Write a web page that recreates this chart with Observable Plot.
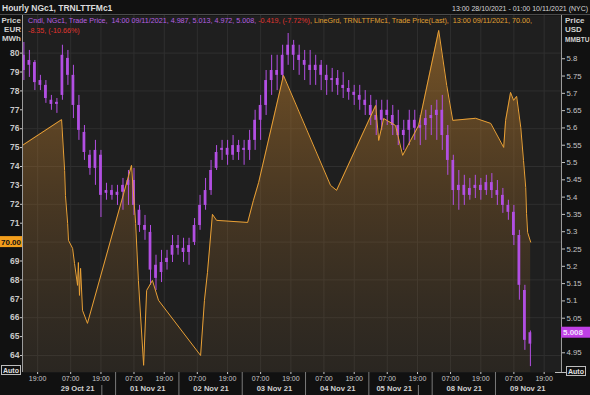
<!DOCTYPE html>
<html><head><meta charset="utf-8">
<script src="https://cdn.jsdelivr.net/npm/d3@7"></script>
<script src="https://cdn.jsdelivr.net/npm/@observablehq/plot@0.6"></script>
<style>
html,body{margin:0;padding:0;background:#111111;}
#chart{width:590px;height:395px;overflow:hidden;}
</style></head><body><div id="chart"></div>
<script>
// ---- NGc1 hourly candles (USD/MMBTU), 2-hour sampling; x = trading-hour index from 13:00 28/10
const candleBar = [0,2,4,6,8,10,12,14,16,18,20,22,24,26,28,30,32,34,36,38,40,42,44,46,48,50,52,54,56,58,60,62,64,66,68,70,72,74,76,78,80,82,84,86,88,90,92,94,96,98,100,102,104,106,108,110,112,114,116,118,120,122,124,126,128,130,132,134,136,138,140,142,144,146,148,150,152,154,156,158,160,162,164,166,168,170,172,174,176,178,180,182,184];
const ngOpen = [5.810,5.781,5.789,5.737,5.723,5.680,5.668,5.694,5.801,5.752,
5.665,5.587,5.521,5.483,5.521,5.411,5.419,5.405,5.414,5.434,
5.448,5.362,5.318,5.298,5.203,5.182,5.211,5.232,5.260,5.252,
5.240,5.269,5.318,5.376,5.419,5.483,5.535,5.541,5.521,5.549,
5.535,5.535,5.564,5.622,5.665,5.737,5.766,5.752,5.810,5.839,
5.810,5.795,5.781,5.766,5.781,5.752,5.737,5.743,5.723,5.714,
5.703,5.694,5.680,5.665,5.636,5.622,5.651,5.636,5.607,5.578,
5.593,5.622,5.599,5.607,5.627,5.636,5.651,5.578,5.506,5.419,
5.434,5.405,5.425,5.434,5.419,5.442,5.419,5.405,5.376,5.356,
5.289,5.130,4.975];
const ngHigh = [5.847,5.824,5.795,5.752,5.737,5.694,5.685,5.839,5.824,5.781,
5.694,5.607,5.535,5.564,5.535,5.440,5.434,5.434,5.454,5.477,
5.483,5.376,5.347,5.318,5.232,5.246,5.246,5.289,5.289,5.281,
5.281,5.338,5.405,5.454,5.506,5.549,5.564,5.564,5.578,5.564,
5.564,5.593,5.651,5.694,5.766,5.810,5.810,5.839,5.873,5.853,
5.839,5.824,5.824,5.810,5.795,5.781,5.772,5.766,5.760,5.737,
5.723,5.723,5.708,5.694,5.680,5.680,5.680,5.665,5.651,5.622,
5.651,5.651,5.636,5.651,5.665,5.680,5.694,5.607,5.521,5.477,
5.463,5.454,5.463,5.454,5.463,5.468,5.448,5.425,5.391,5.376,
5.304,5.145,5.013];
const ngLow = [5.737,5.746,5.708,5.708,5.671,5.651,5.642,5.680,5.723,5.627,
5.564,5.506,5.463,5.434,5.341,5.391,5.391,5.376,5.362,5.376,
5.347,5.298,5.275,5.145,5.130,5.153,5.189,5.211,5.232,5.211,
5.203,5.260,5.304,5.362,5.405,5.477,5.506,5.492,5.506,5.506,
5.492,5.506,5.535,5.564,5.636,5.694,5.708,5.737,5.781,5.766,
5.752,5.737,5.723,5.723,5.708,5.694,5.703,5.694,5.685,5.680,
5.665,5.651,5.636,5.607,5.578,5.593,5.607,5.578,5.549,5.535,
5.549,5.564,5.549,5.564,5.578,5.564,5.535,5.463,5.376,5.362,
5.376,5.391,5.396,5.391,5.405,5.396,5.376,5.353,5.333,5.260,
5.102,4.957,4.910];
const ngClose = [5.766,5.795,5.731,5.723,5.685,5.668,5.674,5.810,5.752,5.665,
5.593,5.529,5.483,5.535,5.405,5.419,5.405,5.414,5.434,5.448,
5.376,5.318,5.304,5.189,5.165,5.211,5.223,5.260,5.252,5.240,
5.260,5.318,5.376,5.419,5.477,5.529,5.541,5.521,5.549,5.529,
5.541,5.564,5.622,5.665,5.737,5.766,5.752,5.810,5.839,5.810,
5.795,5.781,5.766,5.781,5.752,5.737,5.743,5.723,5.714,5.703,
5.694,5.680,5.665,5.636,5.622,5.651,5.636,5.607,5.578,5.593,
5.622,5.599,5.607,5.627,5.636,5.651,5.578,5.506,5.419,5.434,
5.405,5.425,5.434,5.419,5.442,5.419,5.405,5.376,5.356,5.289,
5.145,4.986,5.008];

// ---- TRNLTTFMc1 line (EUR/MWh)
const ttfBar = [-0.5,13.7,14.8,15.1,15.9,16.2,17.7,18.4,19.5,19.8,20.2,20.6,21.3,23.1,39.1,40.6,41.6,43.5,44.6,46.7,48.9,64.2,65.6,66.7,68.5,70.0,81.3,83.4,85.3,94.3,111.4,113.6,127.8,128.9,130.7,135.0,137.6,140.5,143.4,150.7,153.6,155.8,164.1,169.6,174.3,175.0,176.8,177.9,179.0,180.5,181.5,182.3,182.6,183.0,184.1];
const ttfPrice = [75.12,76.48,73.79,72.47,70.99,70.09,69.67,68.87,67.71,68.92,67.18,68.61,66.39,65.70,74.06,70.99,67.97,63.48,67.44,67.97,66.92,64.00,66.92,68.40,71.47,71.15,71.04,72.21,73.16,78.82,73.00,72.74,77.23,75.38,76.54,76.17,74.59,75.38,76.17,81.20,78.29,76.44,76.55,76.28,75.01,76.44,77.92,77.50,77.71,76.07,74.32,72.89,71.52,70.51,70.00];

// ---- axes
const eurTicks = [64,65,66,67,68,69,71,72,73,74,75,76,77,78,79,80];
const eurGrid = [64,66,68,70,72,74,76,78,80];
const usdTicks = [4.95,5.05,5.1,5.15,5.2,5.25,5.3,5.35,5.4,5.45,5.5,5.55,5.6,5.65,5.7,5.75,5.8];
const timeTickBar = [5,17,28,40,51,63,74,86,97,109,120,132,143,155,166,178,189];
const timeTickLabel = ["19:00","07:00","19:00","07:00","19:00","07:00","19:00","07:00","19:00","07:00","19:00","07:00","19:00","07:00","19:00","07:00","19:00"];
const dayLabel = ["29 Oct 21","01 Nov 21","02 Nov 21","03 Nov 21","04 Nov 21","05 Nov 21","08 Nov 21","09 Nov 21"];
const dayStartBar = [10.5,33.5,56.5,79.5,102.5,125.5,148.5,171.5];
const dayEndBar = [28.5,56.5,79.5,102.5,125.5,143.5,171.5,194.5];
const weekEndBar = [28.5,143.5];
const lastTTF = 70.00, lastNG = 5.008;

const xDomain = [-0.5, 195.3];
const eurDomain = [63.10, 81.99];
const usdDomain = [4.893, 5.925];

const purple = "#b24fe2", orange = "#e9a035";
const eurToUsd = d3.scaleLinear().domain(eurDomain).range(usdDomain);
const candles = candleBar.map((b,i)=>({b,o:ngOpen[i],h:ngHigh[i],l:ngLow[i],c:ngClose[i]}));
const ttf = ttfBar.map((b,i)=>({b,u:eurToUsd(ttfPrice[i])}));
const days = dayLabel.map((label,i)=>({label, mid:(dayStartBar[i]+dayEndBar[i])/2}));
const tickMap = new Map(timeTickBar.map((b,i)=>[b,timeTickLabel[i]]));
const FONT = "'Liberation Sans', Arial, sans-serif";

const plot = Plot.plot({
  width:590, height:395, marginTop:15, marginBottom:23, marginLeft:22, marginRight:29,
  style:{background:"#111111", color:"#c8c8c8", fontFamily:FONT, fontSize:"8px", overflow:"visible"},
  x:{domain:xDomain, axis:null},
  y:{domain:usdDomain, axis:null},
  marks:[
    Plot.frame({fill:"#1f1f1f", stroke:null}),
    Plot.ruleY(eurGrid.map(eurToUsd), {stroke:"#2f2f2f"}),
    Plot.ruleX(timeTickBar, {stroke:"#2f2f2f"}),
    Plot.areaY(ttf, {x:"b", y1:usdDomain[0], y2:"u", fill:"url(#ttfGrad)"}),
    Plot.ruleX(candles, {x:"b", y1:"l", y2:"h", stroke:purple, strokeWidth:1}),
    Plot.rect(candles, {x1:d=>d.b-0.5, x2:d=>d.b+0.5, y1:"o", y2:"c", fill:purple}),
    Plot.line(ttf, {x:"b", y:"u", stroke:orange, strokeWidth:1}),
    Plot.ruleX([xDomain[0]], {stroke:"#9c9c9c"}),
    Plot.ruleX([xDomain[1]], {stroke:"#9c9c9c"}),
    Plot.axisY(eurTicks.map(eurToUsd), {anchor:"left", tickSize:2, tickPadding:1,
      tickFormat:d=>String(Math.round(eurToUsd.invert(d))), fontWeight:"bold", fontSize:8.5, color:"#c8c8c8"}),
    Plot.axisY(usdTicks, {anchor:"right", tickSize:3, tickPadding:2,
      tickFormat:d3.format("~g"), fontSize:7.8, color:"#c4c4c4"}),
    Plot.axisX(timeTickBar, {anchor:"bottom", tickSize:2, tickPadding:2,
      tickFormat:d=>tickMap.get(d), fontSize:7, color:"#c8c8c8"}),
    Plot.text(days, {x:"mid", text:"label", frameAnchor:"bottom", dy:18, fontWeight:"bold", fontSize:7.6, fill:"#d0d0d0"})
  ]
});
document.getElementById("chart").appendChild(plot);

const svg = d3.select(plot);
const xs = plot.scale("x"), ys = plot.scale("y");
const defs = svg.insert("defs", ":first-child");
const g = defs.append("linearGradient").attr("id","ttfGrad").attr("gradientUnits","userSpaceOnUse")
  .attr("x1",0).attr("y1",15).attr("x2",0).attr("y2",372);
g.append("stop").attr("offset","0").attr("stop-color","#c8852e").attr("stop-opacity",0.55);
g.append("stop").attr("offset","0.55").attr("stop-color","#a26c2a").attr("stop-opacity",0.3);
g.append("stop").attr("offset","1").attr("stop-color","#7a5a30").attr("stop-opacity",0.12);

const ann = svg.append("g").attr("font-family", FONT).attr("text-anchor","start");
// header
ann.append("line").attr("x1",0).attr("x2",590).attr("y1",14.5).attr("y2",14.5).attr("stroke","#4a4a4a");
ann.append("text").attr("x",2).attr("y",11).attr("font-size",8.5).attr("font-weight","bold").attr("fill","#dcdcdc")
  .text("Hourly NGc1, TRNLTTFMc1");
const hdr = ann.append("text").attr("x",452).attr("y",11).attr("font-size",7.2).attr("fill","#d8d8d8")
  .text("13:00 28/10/2021 - 01:00 10/11/2021 (NYC)");
const hl = hdr.node().getComputedTextLength();
if (hl > 136) hdr.attr("font-size", 7.2*136/hl);
// axis unit labels
[["Price",23],["EUR",32],["MWh",41]].forEach(([t,y])=>ann.append("text").attr("x",21).attr("y",y)
  .attr("text-anchor","end").attr("font-size",8).attr("font-weight","bold").attr("fill","#d0d0d0").text(t));
[["Price",23],["USD",32],["MMBTU",42]].forEach(([t,y])=>ann.append("text").attr("x",565).attr("y",y)
  .attr("font-size",t==="MMBTU"?6.6:8).attr("font-weight","bold").attr("fill","#d0d0d0").text(t));
// legend
const leg = ann.append("text").attr("x",28).attr("y",23).attr("font-size",7);
leg.append("tspan").attr("fill","#b65fe0").text("Cndl, NGc1, Trade Price,  14:00 09/11/2021, 4.987, 5.013, 4.972, 5.008, ");
leg.append("tspan").attr("fill","#e0352f").text("-0.419, (-7.72%)");
leg.append("tspan").attr("fill","#e0a032").text(", LineGrd, TRNLTTFMc1, Trade Price(Last),  13:00 09/11/2021, 70.00,");
const leg2 = ann.append("text").attr("x",28).attr("y",32.5).attr("font-size",7).attr("fill","#e0352f").text("-8.35, (-10.66%)");
const len = leg.node().getComputedTextLength();
if (len > 0) { const fs = Math.min(8, 7*505/len); leg.attr("font-size",fs); leg2.attr("font-size",fs); }
// day separators
dayStartBar.slice(1).forEach(b=>ann.append("line").attr("x1",xs.apply(b)).attr("x2",xs.apply(b))
  .attr("y1",372).attr("y2",395).attr("stroke","#7a7a7a"));
weekEndBar.forEach(b=>ann.append("line").attr("x1",xs.apply(b)).attr("x2",xs.apply(b))
  .attr("y1",385).attr("y2",395).attr("stroke","#7a7a7a"));
// last value boxes
const yT = ys.apply(eurToUsd(lastTTF));
ann.append("rect").attr("x",0).attr("y",yT-5.5).attr("width",22).attr("height",11).attr("fill","#f39e1c");
ann.append("text").attr("x",11).attr("y",yT+3).attr("text-anchor","middle").attr("font-size",8).attr("font-weight","bold").attr("fill","#111").text(lastTTF.toFixed(2));
const yN = ys.apply(lastNG);
ann.append("rect").attr("x",561).attr("y",yN-5.5).attr("width",29).attr("height",11).attr("fill","#c03fe6");
ann.append("text").attr("x",563).attr("y",yN+3).attr("font-size",8).attr("font-weight","bold").attr("fill","#f0e0ff").text(lastNG.toFixed(3));
// Auto boxes
[[1,365],[566,366]].forEach(([x,y])=>{
  ann.append("rect").attr("x",x+0.5).attr("y",y+0.5).attr("width",19).attr("height",9).attr("fill","none").attr("stroke","#bdbdbd");
  ann.append("text").attr("x",x+10).attr("y",y+8).attr("text-anchor","middle").attr("font-size",7).attr("font-weight","bold").attr("fill","#e0e0e0").text("Auto");
});
ann.append("line").attr("x1",555).attr("x2",566).attr("y1",372.5).attr("y2",372.5).attr("stroke","#bdbdbd");
</script></body></html>
